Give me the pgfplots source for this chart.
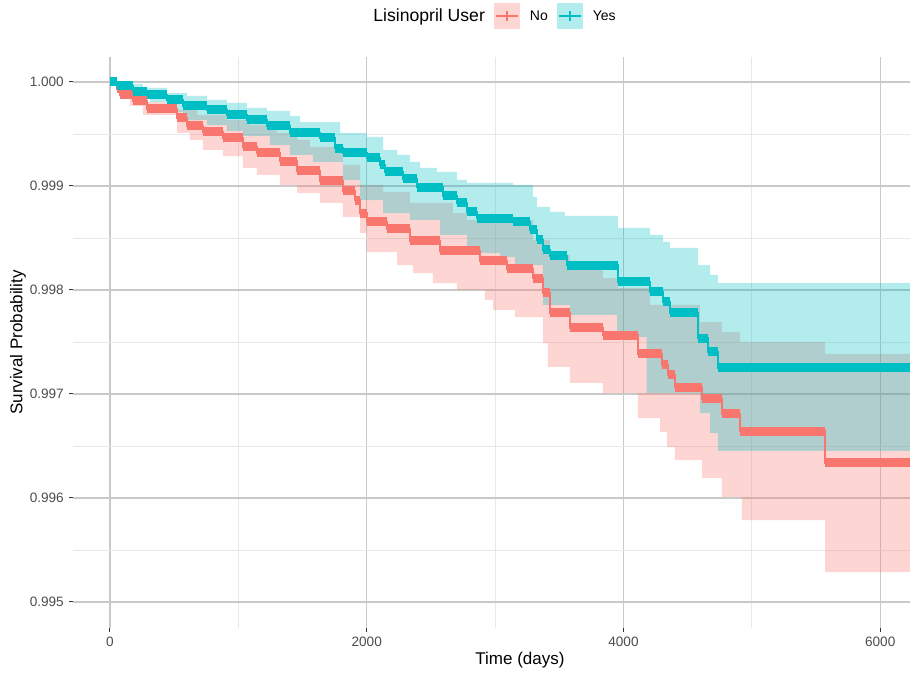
\documentclass[border=0pt]{standalone}
\usepackage{fontspec}
\setmainfont{Liberation Sans}
\usepackage{pgfplots}
\usepackage{pgfplotstable}
\pgfplotsset{compat=1.18}
\usepgfplotslibrary{fillbetween}
\definecolor{cNo}{HTML}{F8766D}
\definecolor{cYes}{HTML}{00BFC4}
\definecolor{tickgray}{HTML}{4D4D4D}

% Yes (Lisinopril users): survival estimate
\pgfplotstableread{
t s
0 1.000000
55 0.999962
179 0.999913
288 0.999875
444 0.999827
569 0.999769
756 0.999731
911 0.999683
1067 0.999635
1223 0.999577
1402 0.999510
1636 0.999462
1753 0.999365
1815 0.999317
2002 0.999269
2103 0.999202
2142 0.999135
2282 0.999067
2392 0.998990
2594 0.998904
2703 0.998837
2781 0.998750
2859 0.998692
3139 0.998654
3272 0.998577
3326 0.998481
3373 0.998385
3428 0.998327
3560 0.998240
3957 0.998077
4207 0.997981
4308 0.997885
4362 0.997779
4581 0.997538
4658 0.997404
4736 0.997250
6700 0.997250
}\yesline

\pgfplotstableread{
t s
0 1.000000
78 0.999981
257 0.999942
444 0.999894
600 0.999865
756 0.999827
911 0.999798
1067 0.999750
1223 0.999721
1402 0.999673
1480 0.999615
1792 0.999510
2002 0.999471
2127 0.999346
2236 0.999298
2337 0.999231
2415 0.999173
2547 0.999135
2703 0.999058
2781 0.999029
3139 0.999010
3295 0.998894
3326 0.998798
3428 0.998750
3544 0.998712
3957 0.998596
4207 0.998529
4308 0.998462
4362 0.998404
4581 0.998240
4674 0.998144
4736 0.998067
6700 0.998067
}\yesup

\pgfplotstableread{
t s
0 1.000000
55 0.999904
156 0.999856
312 0.999808
522 0.999712
569 0.999635
756 0.999587
911 0.999529
1036 0.999481
1246 0.999394
1402 0.999298
1581 0.999231
1815 0.999058
1948 0.998865
2127 0.998740
2337 0.998673
2571 0.998529
2781 0.998356
3038 0.998317
3155 0.998240
3373 0.997856
3583 0.997760
3950 0.997548
4180 0.997010
4596 0.996817
4674 0.996625
4736 0.996452
6700 0.996452
}\yeslo

% No (non-users)
\pgfplotstableread{
t s
0 1.000000
55 0.999933
78 0.999875
179 0.999817
288 0.999740
522 0.999654
600 0.999577
724 0.999519
880 0.999462
1036 0.999375
1145 0.999317
1324 0.999240
1457 0.999144
1636 0.999048
1815 0.998952
1909 0.998865
1948 0.998740
2002 0.998654
2158 0.998587
2337 0.998471
2571 0.998375
2882 0.998279
3093 0.998202
3295 0.998115
3373 0.997971
3428 0.997779
3583 0.997635
3840 0.997567
4113 0.997385
4300 0.997279
4347 0.997183
4401 0.997067
4612 0.996952
4767 0.996808
4908 0.996644
5570 0.996337
6700 0.996337
}\noline

\pgfplotstableread{
t s
0 1.000000
55 0.999962
179 0.999875
288 0.999808
522 0.999731
678 0.999683
911 0.999635
1091 0.999587
1301 0.999510
1457 0.999442
1558 0.999375
1815 0.999202
1948 0.999010
2127 0.998942
2337 0.998837
2672 0.998740
2781 0.998673
3295 0.998481
3428 0.998337
3583 0.998240
3840 0.998115
3957 0.998019
4207 0.997856
4596 0.997692
4767 0.997596
4908 0.997500
5570 0.997385
6700 0.997385
}\noup

\pgfplotstableread{
t s
0 1.000000
55 0.999904
156 0.999769
257 0.999683
522 0.999510
623 0.999442
724 0.999346
880 0.999288
1036 0.999173
1145 0.999106
1324 0.999010
1457 0.998933
1636 0.998837
1815 0.998702
1948 0.998548
2002 0.998365
2236 0.998240
2360 0.998163
2516 0.998067
2703 0.998000
2921 0.997904
2984 0.997808
3155 0.997740
3373 0.997490
3412 0.997260
3583 0.997106
3840 0.997010
4113 0.996769
4285 0.996635
4339 0.996490
4401 0.996365
4612 0.996192
4767 0.996010
4923 0.995788
5570 0.995288
6700 0.995288
}\nolo

\begin{document}
\begin{tikzpicture}
\begin{axis}[
  at={(73pt,47pt)}, anchor=south west,
  scale only axis, width=894pt, height=571pt,
  xmin=-288, xmax=6676,
  ymin=0.99475, ymax=1.00024,
  axis line style={draw=none},
  xtick={0,2000,4000,6000},
  xticklabels={0,2000,4000,6000},
  ytick={0.995,0.996,0.997,0.998,0.999,1.000},
  yticklabels={0.995,0.996,0.997,0.998,0.999,1.000},
  minor xtick={1000,3000,5000},
  minor ytick={0.9955,0.9965,0.9975,0.9985,0.9995},
  tick pos=left,
  tick align=outside,
  major tick length=4pt, minor tick length=0pt,
  tick style={color=black!80, line width=1pt},
  grid=both,
  major grid style={color=black!21, line width=1.3pt},
  minor grid style={color=black!9, line width=0.8pt},
  ticklabel style={font=\fontsize{13.6}{16}\selectfont, text=tickgray},
  yticklabel style={anchor=east, inner sep=0pt, xshift=-5pt},
  xticklabel style={anchor=north, inner sep=0pt, yshift=-5pt},
  xlabel={Time (days)},
  ylabel={Survival Probability},
  every axis x label/.style={at={(axis description cs:0.5,-0.056)}, anchor=center,
    font=\fontsize{17}{20}\selectfont},
  every axis y label/.style={at={(axis description cs:-0.0615,0.5)}, rotate=90, anchor=center,
    font=\fontsize{17}{20}\selectfont},
  legend columns=-1,
  legend style={at={(axis description cs:0.4715,1.0718)}, anchor=center,
    draw=none, fill=none, inner sep=0pt, column sep=0pt,
    nodes={inner sep=0pt}, font=\fontsize{14}{16}\selectfont},
]
\addplot[name path=noup, draw=none, const plot mark left, forget plot] table[x=t,y=s] {\noup};
\addplot[name path=nolo, draw=none, const plot mark left, forget plot] table[x=t,y=s] {\nolo};
\addplot[name path=yesup, draw=none, const plot mark left, forget plot] table[x=t,y=s] {\yesup};
\addplot[name path=yeslo, draw=none, const plot mark left, forget plot] table[x=t,y=s] {\yeslo};
\addplot[fill=cNo, fill opacity=0.3, draw=none, forget plot] fill between[of=noup and nolo];
\addplot[fill=cYes, fill opacity=0.3, draw=none, forget plot] fill between[of=yesup and yeslo];

\addplot[cNo, line width=1.6pt, const plot mark left, forget plot] table[x=t,y=s] {\noline};
\addplot[cNo, line width=9pt, jump mark left, forget plot] table[x=t,y=s] {\noline};
\addplot[cYes, line width=1.6pt, const plot mark left, forget plot] table[x=t,y=s] {\yesline};
\addplot[cYes, line width=9pt, jump mark left, forget plot] table[x=t,y=s] {\yesline};

\addlegendimage{empty legend}
\addlegendentry{\fontsize{17.6}{20}\selectfont Lisinopril User}
\addlegendimage{legend image code/.code={
  \path[draw=none, fill=none] (-9pt,-13pt) rectangle (36pt,13pt);
  \fill[cNo, fill opacity=0.3, draw=none] (0pt,-13pt) rectangle (26pt,13pt);
  \draw[cNo, line width=2pt] (2pt,0pt) -- (24pt,0pt);
  \draw[cNo, line width=2pt] (13pt,-5pt) -- (13pt,5pt);
}}
\addlegendentry{No}
\addlegendimage{legend image code/.code={
  \path[draw=none, fill=none] (-9pt,-13pt) rectangle (36pt,13pt);
  \fill[cYes, fill opacity=0.3, draw=none] (0pt,-13pt) rectangle (26pt,13pt);
  \draw[cYes, line width=2pt] (2pt,0pt) -- (24pt,0pt);
  \draw[cYes, line width=2pt] (13pt,-5pt) -- (13pt,5pt);
}}
\addlegendentry{Yes}
\end{axis}
\pgfresetboundingbox
\path[use as bounding box] (0,0) rectangle (910pt,675pt);
\end{tikzpicture}
\end{document}
